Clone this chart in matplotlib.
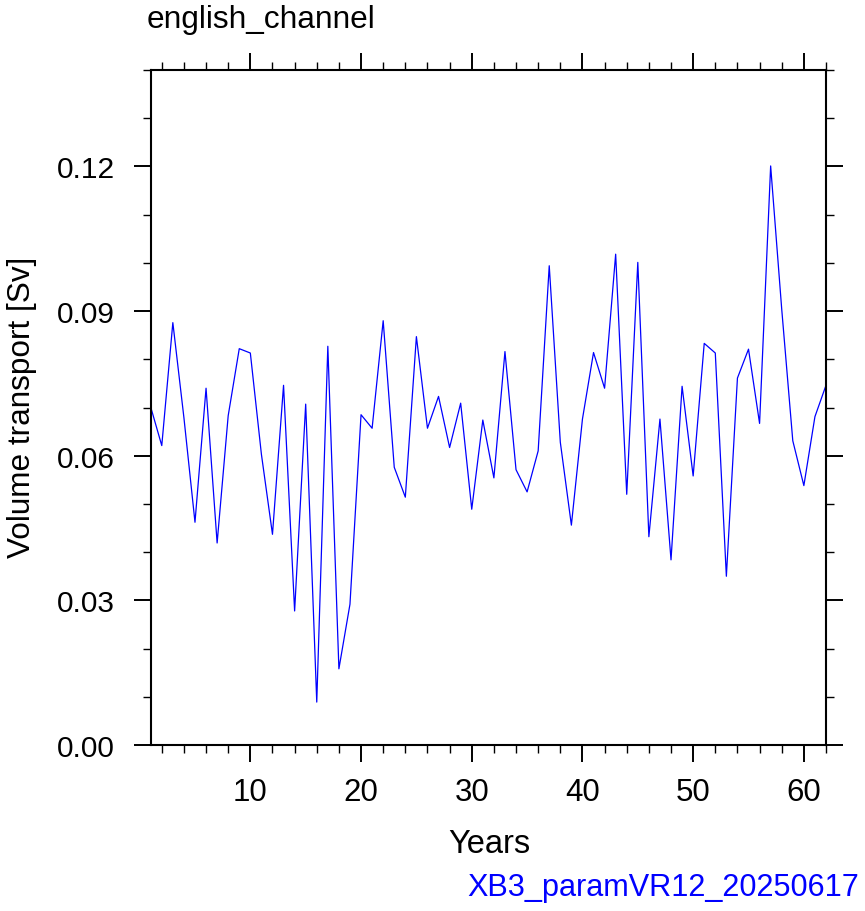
import matplotlib
matplotlib.use('Agg')
import matplotlib.pyplot as plt
from matplotlib.ticker import MultipleLocator, FormatStrFormatter

plt.rcParams['font.family'] = ['Liberation Sans', 'DejaVu Sans']

years = list(range(1, 63))
transport = [0.0701, 0.0621, 0.0876, 0.0679, 0.0462, 0.0740, 0.0419, 0.0683, 0.0822, 0.0813,
             0.0603, 0.0437, 0.0746, 0.0278, 0.0707, 0.0089, 0.0827, 0.0158, 0.0292, 0.0685,
             0.0657, 0.0880, 0.0576, 0.0514, 0.0847, 0.0657, 0.0723, 0.0617, 0.0709, 0.0489,
             0.0674, 0.0554, 0.0816, 0.0571, 0.0525, 0.0610, 0.0994, 0.0628, 0.0456, 0.0676,
             0.0814, 0.0740, 0.1018, 0.0520, 0.1001, 0.0432, 0.0676, 0.0384, 0.0744, 0.0558,
             0.0833, 0.0813, 0.0350, 0.0761, 0.0821, 0.0667, 0.1201, 0.0904, 0.0631, 0.0538,
             0.0681, 0.0746]

title = 'english_channel'
run_name = 'XB3_paramVR12_20250617'

W, H = 865, 912
fig = plt.figure(figsize=(W / 100, H / 100), dpi=100)
ax = fig.add_axes([150.7 / W, 1 - 746 / H, (826 - 150.7) / W, (746 - 71) / H])

ax.plot(years, transport, color='#0000ff', lw=0.9)

ax.set_xlim(1, 62)
ax.set_ylim(0, 0.14)
ax.xaxis.set_major_locator(MultipleLocator(10))
ax.xaxis.set_minor_locator(MultipleLocator(2))
ax.yaxis.set_major_locator(MultipleLocator(0.03))
ax.yaxis.set_minor_locator(MultipleLocator(0.01))
ax.yaxis.set_major_formatter(FormatStrFormatter('%.2f'))

for s in ax.spines.values():
    s.set_linewidth(1.5)
ax.tick_params(which='both', direction='out', top=True, right=True)
ax.tick_params(which='major', length=12, width=1.4)
ax.tick_params(which='minor', length=6, width=1.0)
ax.tick_params(axis='x', which='major', labelsize=22.5, pad=11)
ax.tick_params(axis='y', which='major', labelsize=21.5, pad=14)

fig.text(147 / W, 1 - 28 / H, title, fontsize=22.8, ha='left', va='baseline')
fig.text(489 / W, 1 - 853 / H, 'Years', fontsize=23.5, ha='center', va='baseline')
fig.text(22 / W, 1 - 407 / H, 'Volume transport [Sv]', fontsize=22.7, rotation=90,
         ha='center', va='center')
fig.text(859 / W, 1 - 896 / H, run_name, fontsize=22.1, color='#0000ff',
         ha='right', va='baseline')

fig.savefig('out.png', dpi=100)
